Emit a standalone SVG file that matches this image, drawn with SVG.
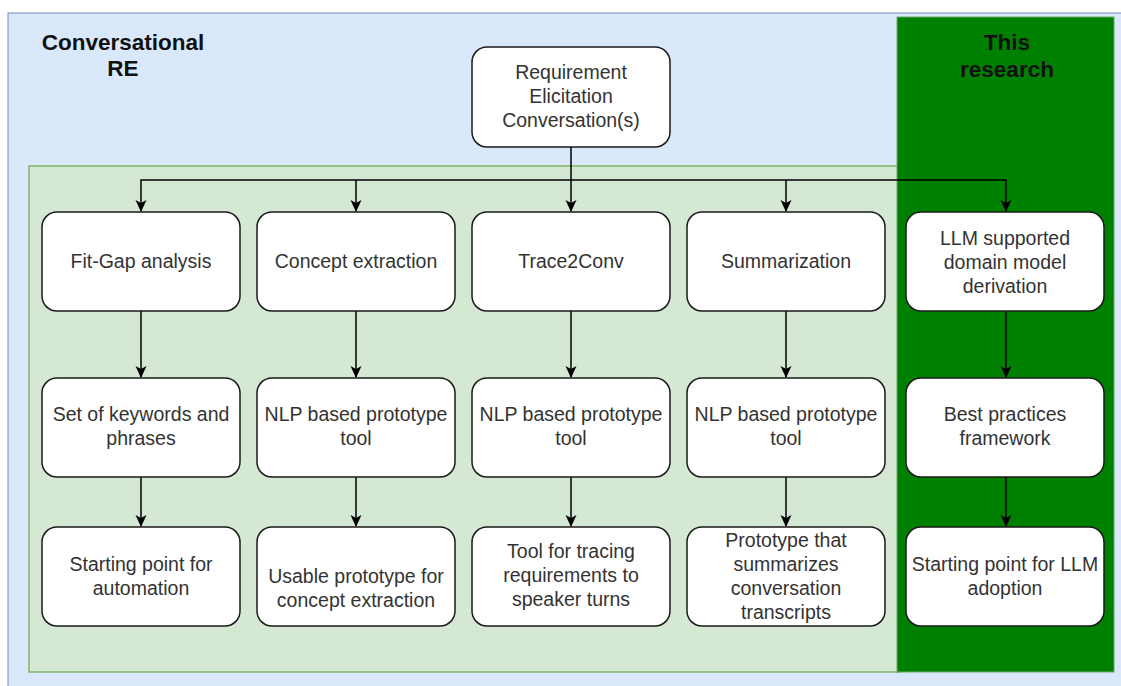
<svg xmlns="http://www.w3.org/2000/svg" width="1121" height="686" viewBox="0 0 1121 686">
  <style>
    .node rect { fill: #ffffff; stroke: #1a1a1a; stroke-width: 1.5; }
    .node text { font-family: "Liberation Sans", Arial, sans-serif; font-size: 19.5px; fill: #333333; text-anchor: middle; }
    .title { font-family: "Liberation Sans", Arial, sans-serif; font-size: 22.5px; font-weight: bold; fill: #111111; text-anchor: middle; }
    .edge { fill: none; stroke: #000000; stroke-width: 1.5; marker-end: url(#arrow); }
  </style>
  <defs>
    <marker id="arrow" viewBox="0 0 12 12" refX="11" refY="6" markerWidth="12" markerHeight="12" markerUnits="userSpaceOnUse" orient="auto">
      <path d="M0,0.5 L12,6 L0,11.5 L3,6 Z" fill="#000000"/>
    </marker>
  </defs>

  <!-- background areas -->
  <g id="area-conversational-re">
    <rect x="8" y="13" width="1120" height="680" fill="#dae8fc" stroke="#6c8ebf" stroke-width="1"/>
    <rect x="29" y="166" width="871" height="506" fill="#d5e8d4" stroke="#82b366" stroke-width="1.5"/>
    <text class="title" x="123" y="50">Conversational</text>
    <text class="title" x="123" y="76">RE</text>
  </g>
  <g id="area-this-research">
    <rect x="897" y="17" width="217" height="655" fill="#008000" stroke="#6aa56a" stroke-width="1"/>
    <text class="title" x="1007" y="50">This</text>
    <text class="title" x="1007" y="77">research</text>
  </g>

  <!-- connectors -->
  <g id="connectors">
    <path class="edge" d="M571,147 V211"/>
    <path class="edge" d="M571,180 H141 V211"/>
    <path class="edge" d="M356,180 V211"/>
    <path class="edge" d="M571,180 H1006 V211"/>
    <path class="edge" d="M786,180 V211"/>

    <path class="edge" d="M141,311 V377"/>
    <path class="edge" d="M356,311 V377"/>
    <path class="edge" d="M571,311 V377"/>
    <path class="edge" d="M786,311 V377"/>
    <path class="edge" d="M1006,311 V377"/>

    <path class="edge" d="M141,477 V526"/>
    <path class="edge" d="M356,477 V526"/>
    <path class="edge" d="M571,477 V526"/>
    <path class="edge" d="M786,477 V526"/>
    <path class="edge" d="M1006,477 V526"/>
  </g>

  <!-- nodes -->
  <g id="n-conversations" class="node">
    <rect x="472" y="47" width="198" height="100" rx="15"/>
    <text x="571" y="79">Requirement</text>
    <text x="571" y="103">Elicitation</text>
    <text x="571" y="127">Conversation(s)</text>
  </g>

  <g id="n-fitgap" class="node">
    <rect x="42" y="212" width="198" height="99" rx="15"/>
    <text x="141" y="268">Fit-Gap analysis</text>
  </g>
  <g id="n-concept" class="node">
    <rect x="257" y="212" width="198" height="99" rx="15"/>
    <text x="356" y="268">Concept extraction</text>
  </g>
  <g id="n-trace2conv" class="node">
    <rect x="472" y="212" width="198" height="99" rx="15"/>
    <text x="571" y="268">Trace2Conv</text>
  </g>
  <g id="n-summarization" class="node">
    <rect x="687" y="212" width="198" height="99" rx="15"/>
    <text x="786" y="268">Summarization</text>
  </g>
  <g id="n-llm" class="node">
    <rect x="906" y="212" width="198" height="99" rx="15"/>
    <text x="1005" y="245">LLM supported</text>
    <text x="1005" y="269">domain model</text>
    <text x="1005" y="293">derivation</text>
  </g>

  <g id="n-keywords" class="node">
    <rect x="42" y="378" width="198" height="99" rx="15"/>
    <text x="141" y="421">Set of keywords and</text>
    <text x="141" y="445">phrases</text>
  </g>
  <g id="n-nlp-concept" class="node">
    <rect x="257" y="378" width="198" height="99" rx="15"/>
    <text x="356" y="421">NLP based prototype</text>
    <text x="356" y="445">tool</text>
  </g>
  <g id="n-nlp-trace" class="node">
    <rect x="472" y="378" width="198" height="99" rx="15"/>
    <text x="571" y="421">NLP based prototype</text>
    <text x="571" y="445">tool</text>
  </g>
  <g id="n-nlp-summary" class="node">
    <rect x="687" y="378" width="198" height="99" rx="15"/>
    <text x="786" y="421">NLP based prototype</text>
    <text x="786" y="445">tool</text>
  </g>
  <g id="n-best-practices" class="node">
    <rect x="906" y="378" width="198" height="99" rx="15"/>
    <text x="1005" y="421">Best practices</text>
    <text x="1005" y="445">framework</text>
  </g>

  <g id="n-automation" class="node">
    <rect x="42" y="527" width="198" height="99" rx="15"/>
    <text x="141" y="571">Starting point for</text>
    <text x="141" y="595">automation</text>
  </g>
  <g id="n-usable" class="node">
    <rect x="257" y="527" width="198" height="99" rx="15"/>
    <text x="356" y="583">Usable prototype for</text>
    <text x="356" y="607">concept extraction</text>
  </g>
  <g id="n-tracing-tool" class="node">
    <rect x="472" y="527" width="198" height="99" rx="15"/>
    <text x="571" y="558">Tool for tracing</text>
    <text x="571" y="582">requirements to</text>
    <text x="571" y="606">speaker turns</text>
  </g>
  <g id="n-summary-prototype" class="node">
    <rect x="687" y="527" width="198" height="99" rx="15"/>
    <text x="786" y="547">Prototype that</text>
    <text x="786" y="571">summarizes</text>
    <text x="786" y="595">conversation</text>
    <text x="786" y="619">transcripts</text>
  </g>
  <g id="n-llm-adoption" class="node">
    <rect x="906" y="527" width="198" height="99" rx="15"/>
    <text x="1005" y="571">Starting point for LLM</text>
    <text x="1005" y="595">adoption</text>
  </g>
</svg>
